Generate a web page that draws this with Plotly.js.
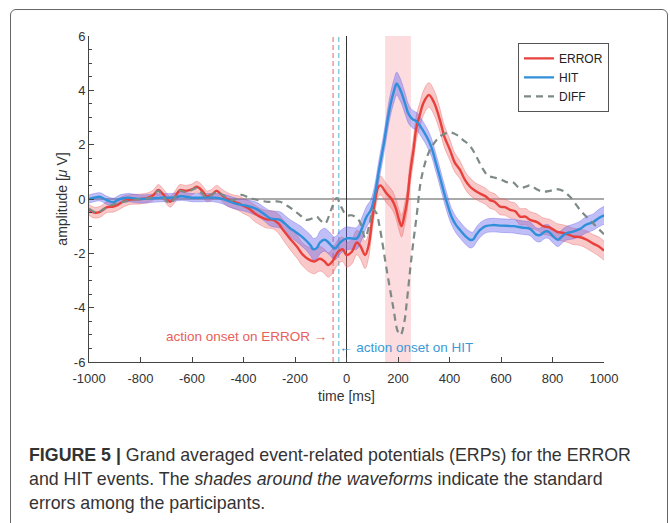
<!DOCTYPE html>
<html><head><meta charset="utf-8">
<script src="https://cdn.plot.ly/plotly-3.0.1.min.js"></script>
<style>
html,body{margin:0;padding:0;background:#fff;}
#frame{position:absolute;left:10px;top:9px;width:656px;height:600px;border:1.5px solid #666;border-radius:6px;}
#chart{position:absolute;left:0;top:0;width:670px;height:523px;}
</style></head>
<body>
<div id="frame"></div>
<div id="chart"></div>
<script>
// [time ms, amplitude uV, standard error]
const errorSeries = [[-1000,-0.4,0.2],[-980,-0.5,0.2],[-957,-0.47,0.2],[-930,-0.3,0.2],[-905,-0.28,0.2],[-885,-0.2,0.2],[-866,-0.09,0.2],[-840,-0.02,0.18],[-800,0.0,0.18],[-770,0.05,0.18],[-750,0.15,0.18],[-731,0.33,0.2],[-710,0.15,0.2],[-685,-0.1,0.2],[-665,0.1,0.2],[-647,0.33,0.2],[-625,0.3,0.2],[-600,0.35,0.2],[-582,0.45,0.2],[-560,0.3,0.2],[-543,0.1,0.2],[-525,0.15,0.2],[-504,0.3,0.2],[-485,0.15,0.22],[-465,0.0,0.25],[-440,-0.1,0.25],[-420,-0.15,0.27],[-401,-0.25,0.28],[-380,-0.35,0.28],[-360,-0.5,0.3],[-336,-0.65,0.3],[-310,-0.75,0.32],[-285,-0.77,0.33],[-265,-0.9,0.35],[-246,-1.14,0.37],[-220,-1.45,0.4],[-193,-1.75,0.42],[-170,-2.05,0.42],[-142,-2.25,0.45],[-125,-2.3,0.45],[-103,-2.2,0.45],[-85,-2.3,0.45],[-71,-2.43,0.45],[-55,-2.3,0.45],[-32,-1.94,0.45],[-15,-1.85,0.45],[0,-2.06,0.45],[20,-1.95,0.45],[40,-1.6,0.45],[55,-1.75,0.48],[72,-2.06,0.5],[85,-1.75,0.45],[98,-0.9,0.4],[112,0.0,0.38],[124,0.45,0.35],[132,0.5,0.35],[156,0.2,0.35],[175,0.0,0.35],[190,-0.3,0.35],[205,-0.8,0.38],[214,-1.0,0.4],[225,-0.6,0.4],[235,-0.1,0.4],[247,0.94,0.42],[260,1.8,0.45],[272,2.66,0.45],[285,3.1,0.45],[298,3.52,0.45],[320,3.83,0.45],[340,3.55,0.45],[363,2.9,0.42],[380,2.3,0.4],[402,1.8,0.38],[420,1.35,0.35],[441,1.07,0.33],[460,0.7,0.32],[480,0.45,0.32],[500,0.3,0.3],[519,0.2,0.3],[540,0.1,0.3],[557,-0.04,0.3],[575,-0.1,0.3],[596,-0.28,0.3],[615,-0.3,0.3],[635,-0.4,0.3],[655,-0.45,0.3],[674,-0.65,0.3],[695,-0.65,0.3],[713,-0.77,0.3],[740,-0.85,0.3],[764,-1.0,0.3],[790,-1.05,0.3],[816,-1.2,0.3],[840,-1.25,0.3],[860,-1.3,0.3],[881,-1.38,0.3],[905,-1.4,0.3],[933,-1.5,0.32],[960,-1.65,0.33],[980,-1.75,0.35],[1000,-1.9,0.35]];

const hitSeries = [[-1000,0.0,0.15],[-980,0.05,0.15],[-957,0.08,0.15],[-930,-0.05,0.15],[-905,-0.12,0.15],[-880,0.0,0.15],[-850,0.05,0.15],[-800,0.0,0.15],[-760,0.02,0.15],[-720,0.05,0.15],[-680,0.05,0.15],[-640,0.1,0.15],[-600,0.05,0.15],[-560,0.05,0.15],[-517,0.05,0.15],[-480,0.0,0.18],[-452,-0.1,0.2],[-420,-0.2,0.2],[-388,-0.25,0.22],[-349,-0.37,0.25],[-320,-0.55,0.25],[-297,-0.71,0.28],[-258,-0.77,0.3],[-240,-0.9,0.3],[-219,-1.08,0.32],[-200,-1.2,0.33],[-181,-1.33,0.35],[-160,-1.5,0.35],[-140,-1.7,0.38],[-129,-1.85,0.4],[-115,-1.8,0.4],[-103,-1.6,0.42],[-85,-1.5,0.42],[-70,-1.6,0.42],[-45,-1.82,0.42],[-25,-1.6,0.42],[0,-1.45,0.42],[20,-1.45,0.4],[40,-1.45,0.4],[59,-1.1,0.4],[78,-0.65,0.38],[95,-0.4,0.38],[111,0.2,0.38],[125,1.0,0.38],[143,1.93,0.38],[169,3.4,0.4],[185,4.0,0.42],[195,4.25,0.42],[205,4.1,0.42],[214,3.9,0.4],[228,3.5,0.38],[240,3.15,0.35],[255,2.95,0.33],[273,2.85,0.33],[292,2.6,0.33],[311,2.3,0.33],[330,1.9,0.33],[344,1.44,0.33],[360,0.9,0.33],[376,0.33,0.33],[392,-0.2,0.33],[408,-0.65,0.3],[425,-0.95,0.3],[441,-1.14,0.3],[460,-1.35,0.3],[480,-1.5,0.3],[490,-1.5,0.28],[505,-1.3,0.28],[519,-1.14,0.27],[540,-1.0,0.25],[569,-0.96,0.25],[600,-0.98,0.25],[647,-1.0,0.25],[680,-1.05,0.25],[713,-1.1,0.25],[735,-1.3,0.25],[751,-1.33,0.25],[770,-1.2,0.25],[784,-1.2,0.25],[800,-1.35,0.25],[821,-1.5,0.25],[840,-1.35,0.25],[855,-1.26,0.25],[880,-1.2,0.27],[907,-1.1,0.28],[930,-0.95,0.3],[958,-0.85,0.3],[980,-0.7,0.32],[1000,-0.6,0.33]];

const diffSeries = [[-1000,-0.35],[-970,-0.5],[-940,-0.35],[-905,-0.2],[-866,-0.1],[-800,0.0],[-760,0.05],[-731,0.3],[-710,0.05],[-685,-0.15],[-660,0.15],[-647,0.3],[-620,0.25],[-582,0.4],[-560,0.2],[-543,0.05],[-504,0.25],[-465,0.05],[-440,-0.05],[-409,0.15],[-380,0.05],[-362,0.0],[-310,-0.1],[-259,-0.1],[-230,-0.25],[-207,-0.4],[-180,-0.6],[-155,-0.77],[-130,-0.7],[-116,-0.65],[-100,-0.8],[-83,-0.9],[-60,-0.4],[-38,0.03],[-20,-0.3],[0,-0.6],[20,-0.6],[40,-0.7],[55,-0.9],[72,-1.43],[90,-0.9],[103,-0.4],[115,-0.5],[130,-1.1],[156,-2.6],[181,-3.96],[200,-4.9],[210,-5.0],[225,-4.5],[234,-3.8],[253,-2.1],[272,-0.65],[292,0.82],[324,1.8],[363,2.3],[400,2.45],[430,2.35],[453,2.17],[480,1.95],[505,1.55],[530,1.1],[550,0.85],[569,0.8],[600,0.72],[622,0.62],[645,0.62],[674,0.4],[695,0.45],[713,0.5],[740,0.35],[763,0.27],[790,0.3],[816,0.36],[840,0.3],[868,0.08],[907,-0.4],[958,-0.9],[1000,-1.3]];

const xTicks = [-1000,-800,-600,-400,-200,0,200,400,600,800,1000];
const yTicks = [-6,-4,-2,0,2,4,6];
const seriesNames = ['ERROR','HIT','DIFF'];
const shadeWindow = [150, 250];
const onsetError = -52, onsetHit = -30;

const col = {err:'#e8413c', hit:'#2f8fd8', diff:'#7d8a86',
  errBand:'rgba(240,110,110,0.38)', hitBand:'rgba(105,100,235,0.42)'};

function band(series, fill, edge){
  const t = series.map(p=>p[0]);
  const lo = series.map(p=>p[1]-p[2]);
  const hi = series.map(p=>p[1]+p[2]);
  return [
    {x:t,y:lo,mode:'lines',line:{color:edge,width:0.8,shape:'spline',smoothing:1},showlegend:false,hoverinfo:'skip'},
    {x:t,y:hi,mode:'lines',fill:'tonexty',fillcolor:fill,line:{color:edge,width:0.8,shape:'spline',smoothing:1},showlegend:false,hoverinfo:'skip'}
  ];
}

const traces = [
  ...band(errorSeries, col.errBand, 'rgba(230,90,90,0.45)'),
  ...band(hitSeries, col.hitBand, 'rgba(100,90,230,0.45)'),
  {x:errorSeries.map(p=>p[0]),y:errorSeries.map(p=>p[1]),name:seriesNames[0],mode:'lines',line:{color:col.err,width:2.4,shape:'spline',smoothing:1}},
  {x:hitSeries.map(p=>p[0]),y:hitSeries.map(p=>p[1]),name:seriesNames[1],mode:'lines',line:{color:col.hit,width:2.4,shape:'spline',smoothing:1}},
  {x:diffSeries.map(p=>p[0]),y:diffSeries.map(p=>p[1]),name:seriesNames[2],mode:'lines',line:{color:col.diff,width:2.2,dash:'7px,5px',shape:'spline',smoothing:1}}
];

const font = 'Liberation Sans, Arial, sans-serif';
const layout = {
  width:670, height:523,
  margin:{l:89,r:66,t:36,b:161},
  paper_bgcolor:'rgba(0,0,0,0)', plot_bgcolor:'rgba(0,0,0,0)',
  font:{family:font,color:'#333',size:13},
  showlegend:true,
  legend:{x:0.833,y:0.979,xanchor:'left',yanchor:'top',bgcolor:'#fff',bordercolor:'#555',borderwidth:1,
    traceorder:'normal',font:{size:12,color:'#222'},itemwidth:30,tracegroupgap:0},
  xaxis:{range:[-1000,1000],tickvals:xTicks,ticktext:xTicks.map(String),ticks:'inside',ticklen:5,tickcolor:'#444',
    showline:true,linecolor:'#444',linewidth:1,showgrid:false,zeroline:false,ticklabelstandoff:4,
    tickfont:{size:13,color:'#333'},title:{text:'time [ms]',font:{size:14,color:'#333'},standoff:6}},
  yaxis:{range:[-6,6],tickvals:yTicks,ticktext:yTicks.map(String),ticks:'inside',ticklen:5,tickcolor:'#444',
    minor:{dtick:0.5,ticks:'inside',ticklen:3,tickcolor:'#444',showgrid:false},
    showline:true,linecolor:'#444',linewidth:1,showgrid:false,zeroline:false,
    tickfont:{size:13,color:'#333'},title:{text:'amplitude [<i>μ</i> V]',font:{size:14,color:'#333'},standoff:2}},
  shapes:[
    {type:'rect',xref:'x',yref:'paper',x0:shadeWindow[0],x1:shadeWindow[1],y0:0,y1:1,fillcolor:'rgba(250,185,190,0.5)',line:{width:0},layer:'below'},
    {type:'line',xref:'paper',yref:'y',x0:0,x1:1,y0:0,y1:0,line:{color:'#555',width:1.2},layer:'below'},
    {type:'line',xref:'x',yref:'paper',x0:0,x1:0,y0:0,y1:1,line:{color:'#333',width:1},layer:'below'},
    {type:'line',xref:'x',yref:'paper',x0:onsetError,x1:onsetError,y0:0,y1:1,line:{color:'#ee8a86',width:1.3,dash:'5px,3px'},layer:'below'},
    {type:'line',xref:'x',yref:'paper',x0:onsetHit,x1:onsetHit,y0:0,y1:1,line:{color:'#7cc3e0',width:1.3,dash:'5px,3px'},layer:'below'}
  ],
  annotations:[
    {x:-68,y:-5.07,xref:'x',yref:'y',text:'action onset on ERROR →',showarrow:false,xanchor:'right',yanchor:'middle',font:{size:13.5,color:'#e8605a'}},
    {x:-35,y:-5.48,xref:'x',yref:'y',text:'← action onset on HIT',showarrow:false,xanchor:'left',yanchor:'middle',font:{size:13.5,color:'#3a9ad6'}},
    {xref:'paper',yref:'paper',x:-0.12,y:-0.285,xanchor:'left',yanchor:'middle',showarrow:false,align:'left',
      text:'<b>FIGURE 5 |</b> Grand averaged event-related potentials (ERPs) for the ERROR',font:{size:17.8,color:'#333'}},
    {xref:'paper',yref:'paper',x:-0.12,y:-0.359,xanchor:'left',yanchor:'middle',showarrow:false,align:'left',
      text:'and HIT events. The <i>shades around the waveforms</i> indicate the standard',font:{size:17.8,color:'#333'}},
    {xref:'paper',yref:'paper',x:-0.12,y:-0.432,xanchor:'left',yanchor:'middle',showarrow:false,align:'left',
      text:'errors among the participants.',font:{size:17.8,color:'#333'}}
  ]
};
Plotly.newPlot('chart', traces, layout, {displayModeBar:false, staticPlot:true});
</script>
</body></html>
